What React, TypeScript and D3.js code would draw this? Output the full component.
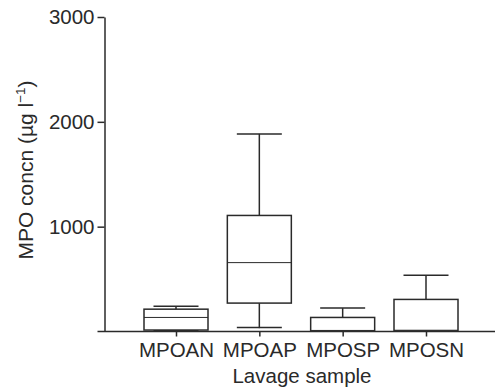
import React, { useEffect, useRef } from 'react'
import * as d3 from 'd3'

// box plot values (µg/l)
const categories = ['MPOAN', 'MPOAP', 'MPOSP', 'MPOSN']
const whiskerHigh = [242, 1885, 223, 536]
const q3 = [213, 1107, 134, 306]
const median = [134, 657, 10, 12]
const q1 = [14, 271, 4, 6]
const whiskerLow = [5, 32, 0, 0]
const yTicks = [1000, 2000, 3000]

const W = 495
const H = 388
const FONT = '"Liberation Sans", Arial, Helvetica, sans-serif'
const INK = '#2a2a2a'

const App = () => {
    const ref = useRef<SVGGElement>(null)

    useEffect(() => {
        const g = d3.select(ref.current)
        g.selectAll('*').remove()

        const axisX = 104.5
        const baseY = 331.5

        const y = d3.scaleLinear().domain([0, 3000]).range([baseY, 17])
        const x = d3.scalePoint().domain(categories).range([176, 426])
        const boxW = 64
        const capW = 45

        const data = categories.map((c, i) => ({
            c,
            hi: whiskerHigh[i],
            q3: q3[i],
            med: median[i],
            q1: q1[i],
            lo: whiskerLow[i],
        }))

        // y axis
        const yAxis = d3.axisLeft(y).tickValues(yTicks).tickFormat(d3.format('d')).tickSize(7).tickSizeOuter(0).tickPadding(3)
        const yG = g.append('g').attr('transform', `translate(${axisX},0)`).call(yAxis)
        yG.select('.domain').attr('stroke', INK).attr('stroke-width', 1.5)
        yG.selectAll('line').attr('stroke', INK).attr('stroke-width', 1.5)
        yG.selectAll('text').attr('font-size', 20.5).attr('font-family', FONT).attr('fill', INK)

        // x axis
        const xAxis = d3.axisBottom(x).tickSize(5).tickSizeOuter(0).tickPadding(6)
        const xG = g.append('g').attr('transform', `translate(0,${baseY})`).call(xAxis)
        xG.select('.domain').remove()
        xG.selectAll('line').attr('stroke', INK).attr('stroke-width', 1.5)
        xG.selectAll('text').attr('font-size', 20.5).attr('font-family', FONT).attr('fill', INK)
        g.append('line')
            .attr('x1', axisX - 7).attr('x2', W)
            .attr('y1', baseY).attr('y2', baseY)
            .attr('stroke', INK).attr('stroke-width', 1.5)

        // boxes
        const box = g.selectAll('g.box').data(data).enter().append('g').attr('class', 'box')
            .attr('stroke', INK).attr('fill', 'none')

        box.append('line')
            .attr('x1', d => x(d.c)!).attr('x2', d => x(d.c)!)
            .attr('y1', d => y(d.hi)).attr('y2', d => y(d.q3))
            .attr('stroke-width', 1.5)
        box.append('line')
            .attr('x1', d => x(d.c)!).attr('x2', d => x(d.c)!)
            .attr('y1', d => y(d.q1)).attr('y2', d => y(d.lo))
            .attr('stroke-width', 1.5)
        box.append('line')
            .attr('x1', d => x(d.c)! - capW / 2).attr('x2', d => x(d.c)! + capW / 2)
            .attr('y1', d => y(d.hi)).attr('y2', d => y(d.hi))
            .attr('stroke-width', 1.5)
        box.append('line')
            .attr('x1', d => x(d.c)! - capW / 2).attr('x2', d => x(d.c)! + capW / 2)
            .attr('y1', d => y(d.lo) - 0.75).attr('y2', d => y(d.lo) - 0.75)
            .attr('stroke-width', 1.5)
        box.append('rect')
            .attr('x', d => x(d.c)! - boxW / 2)
            .attr('width', boxW)
            .attr('y', d => y(d.q3))
            .attr('height', d => y(d.q1) - y(d.q3))
            .attr('fill', '#fff')
            .attr('stroke-width', 1.5)
        box.append('line')
            .attr('x1', d => x(d.c)! - boxW / 2).attr('x2', d => x(d.c)! + boxW / 2)
            .attr('y1', d => y(d.med)).attr('y2', d => y(d.med))
            .attr('stroke-width', 1)

        // axis titles
        g.append('text')
            .attr('x', 302)
            .attr('y', 383)
            .attr('text-anchor', 'middle')
            .attr('font-size', 20.5).attr('font-family', FONT).attr('fill', INK)
            .text('Lavage sample')

        const yl = g.append('text')
            .attr('transform', 'translate(33,170) rotate(-90)')
            .attr('text-anchor', 'middle')
            .attr('font-size', 21).attr('font-family', FONT).attr('fill', INK)
        yl.append('tspan').text('MPO concn (\u00b5g l')
        yl.append('tspan').attr('font-size', 13.5).attr('dy', -8).text('\u22121')
        yl.append('tspan').attr('dy', 8).text(')')
    }, [])

    return (
        <svg width={W} height={H} style={{ position: 'absolute', left: 0, top: 0, background: '#fff' }}>
            <g ref={ref} />
        </svg>
    )
}

export default App
